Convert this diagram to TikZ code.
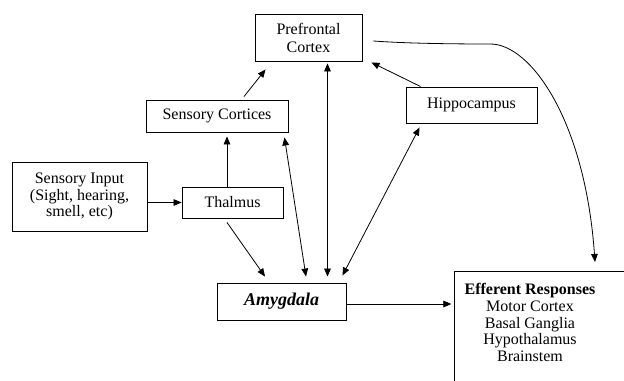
\documentclass[tikz,border=0pt]{standalone}
\usepackage{fontspec}
\setmainfont{Liberation Serif}
\usetikzlibrary{arrows.meta,calc}
\begin{document}
\begin{tikzpicture}[x=0.75pt,y=-0.75pt,
  box/.style={draw,line width=0.7pt,inner sep=1pt,align=center,font=\fontsize{12}{12.5}\selectfont},
  conn/.style={line width=0.6pt,-{Triangle[length=6pt,width=5pt]}},
  biconn/.style={line width=0.6pt,{Triangle[length=6pt,width=5pt]}-{Triangle[length=6pt,width=5pt]}}]
\useasboundingbox (0,0) rectangle (624,381);
\clip (0,0) rectangle (624,381);
\node[box,minimum width=80.25pt,minimum height=35.25pt,font=\fontsize{12}{13.5}\selectfont] (pfc) at (308.5,37.5) {Prefrontal\\Cortex};
\node[box,minimum width=106.5pt,minimum height=24pt] (cort) at (217,116) {Sensory Cortices};
\node[box,minimum width=98.25pt,minimum height=27pt] (hip) at (471.5,105) {Hippocampus};
\node[box,minimum width=101.25pt,minimum height=51.75pt] (in) at (79.5,196.5) {Sensory Input\\(Sight, hearing,\\smell, etc)};
\node[box,minimum width=75.75pt,minimum height=23.25pt] (thal) at (232.5,202.5) {Thalmus};
\node[box,minimum width=96.75pt,minimum height=27.75pt,font=\fontsize{13.5}{14}\selectfont\bfseries\itshape] (amyg) at (281.5,301.5) {Amygdala};
\coordinate (effnw) at (454,271);
\draw[line width=0.7pt] (effnw |- 0,400) -- (effnw) -- (640,271);
\node[align=center,inner sep=0pt,font=\fontsize{12}{12.4}\selectfont] (eff) at (530,322.5) {\textbf{Efferent Responses}\\Motor Cortex\\Basal Ganglia\\Hypothalamus\\Brainstem};
\coordinate (ae) at ($(amyg.east)+(0,2.5)$);
\draw[conn] (in.east |- thal.west) -- (thal.west);
\draw[conn] ($(thal.north)+(-5.5,0)$) -- ($(thal.north |- cort.south)+(-5.5,4)$);
\draw[conn] ($(cort.north)+(27,-3)$) -- ($(pfc.south west)+(11,8)$);
\draw[conn] ($(thal.south)+(-5.5,4)$) -- ($(amyg.north)+(-16.5,-6)$);
\draw[biconn] ($(cort.south east)+(-4,5)$) -- ($(amyg.north)+(24.5,-6)$);
\draw[biconn] ($(pfc.south)+(19,2)$) -- ($(amyg.north)+(46,-6)$);
\draw[biconn] ($(hip.south west)+(14,4)$) -- ($(amyg.north east)+(-4,-7)$);
\draw[conn] ($(hip.north west)+(15,0)$) -- ($(pfc.south east)+(9,1)$);
\draw[conn,shorten >=2pt] (ae) -- (ae -| effnw);
\draw[conn] ($(pfc.east)+(11,3.5)$) .. controls ($(pfc.east)+(38,5.5)$) and ($(pfc.east)+(78,6.5)$) .. ($(pfc.east)+(128,6.5)$)
  .. controls ($(pfc.east)+(168,6.5)$) and ($(effnw)+(131,-151)$) .. ($(effnw)+(141,-9)$);
\end{tikzpicture}
\end{document}
